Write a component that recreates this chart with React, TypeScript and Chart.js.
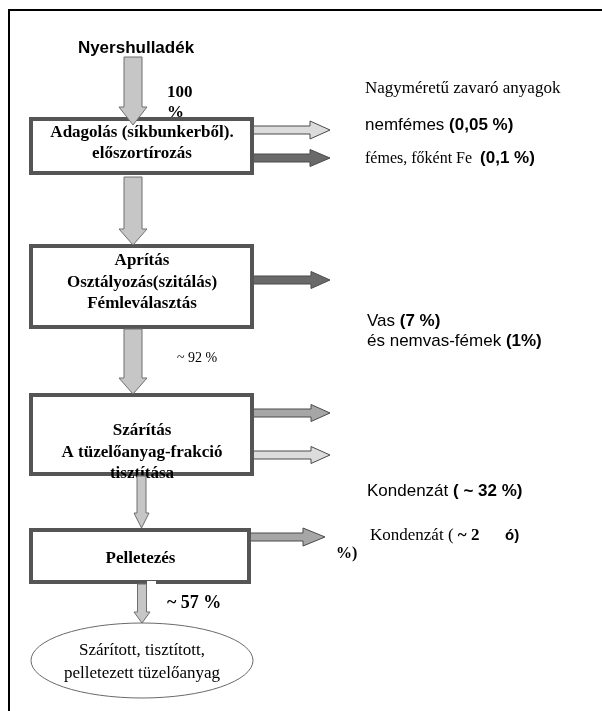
import { useEffect, useRef } from "react";
import { Chart, registerables } from "chart.js";
Chart.register(...registerables);

// ---- content ----
const inputLabel = "Nyershulladék";
const inputShare = ["100", "%"];
const stepLabels: string[][] = [
  ["Adagolás (síkbunkerből).", "előszortírozás"],
  ["Aprítás", "Osztályozás(szitálás)", "Fémleválasztás"],
  ["Szárítás", "A tüzelőanyag-frakció", "tisztítása"],
  ["Pelletezés"],
];
const flowShares = ["~ 92 %", "~ 57 %"];
const productLabel = ["Szárított, tisztított,", "pelletezett tüzelőanyag"];
const removedHeader = "Nagyméretű zavaró anyagok";
const removedNonMetal = ["nemfémes ", "(0,05 %)"];
const removedMetal = ["fémes, főként Fe  ", "(0,1 %)"];
const ironLine = ["Vas ", "(7 %)"];
const nonFerrousLine = ["és nemvas-fémek ", "(1%)"];
const condensate1 = ["Kondenzát ", "( ~ 32 %)"];
const condensate2 = ["Kondenzát ( ", "~ 2", "ó)", "%)"];

// ---- layout (page units, 602 x 711) ----
const BOX = [
  { x0: 29, x1: 254, y0: 117, y1: 175, base: [137, 158] },
  { x0: 29, x1: 254, y0: 244, y1: 329, base: [265, 287, 308] },
  { x0: 29, x1: 254, y0: 393, y1: 476, base: [435, 457, 478] },
  { x0: 29, x1: 251, y0: 528, y1: 584, base: [563] },
];

const SERIF = '"Liberation Serif", "Times New Roman", serif';
const SANS = '"Liberation Sans", Arial, sans-serif';

const flowPlugin = {
  id: "flow",
  afterDraw(chart: any) {
    const ctx: CanvasRenderingContext2D = chart.ctx;
    const xs = chart.scales.x;
    const ys = chart.scales.y;
    const px = (v: number) => xs.getPixelForValue(v);
    const py = (v: number) => ys.getPixelForValue(v);

    ctx.save();
    ctx.fillStyle = "#ffffff";
    ctx.fillRect(0, 0, chart.width, chart.height);

    // frame
    ctx.strokeStyle = "#000";
    ctx.lineWidth = 2;
    ctx.beginPath();
    ctx.moveTo(px(9), py(711));
    ctx.lineTo(px(9), py(10));
    ctx.lineTo(px(602), py(10));
    ctx.stroke();

    const downArrow = (cx: number, y0: number, y1: number, sw: number, hw: number, hh: number) => {
      ctx.beginPath();
      ctx.moveTo(px(cx - sw / 2), py(y0));
      ctx.lineTo(px(cx + sw / 2), py(y0));
      ctx.lineTo(px(cx + sw / 2), py(y1 - hh));
      ctx.lineTo(px(cx + hw / 2), py(y1 - hh));
      ctx.lineTo(px(cx), py(y1));
      ctx.lineTo(px(cx - hw / 2), py(y1 - hh));
      ctx.lineTo(px(cx - sw / 2), py(y1 - hh));
      ctx.closePath();
      ctx.fillStyle = "#c6c6c6";
      ctx.fill();
      ctx.strokeStyle = "#6e6e6e";
      ctx.lineWidth = 1;
      ctx.stroke();
    };
    const rightArrow = (x0: number, x1: number, cy: number, sh: number, hh: number, hl: number, fill: string) => {
      ctx.beginPath();
      ctx.moveTo(px(x0), py(cy - sh / 2));
      ctx.lineTo(px(x1 - hl), py(cy - sh / 2));
      ctx.lineTo(px(x1 - hl), py(cy - hh / 2));
      ctx.lineTo(px(x1), py(cy));
      ctx.lineTo(px(x1 - hl), py(cy + hh / 2));
      ctx.lineTo(px(x1 - hl), py(cy + sh / 2));
      ctx.lineTo(px(x0), py(cy + sh / 2));
      ctx.closePath();
      ctx.fillStyle = fill;
      ctx.fill();
      ctx.strokeStyle = "#4a4a4a";
      ctx.lineWidth = 1;
      ctx.stroke();
    };
    const text = (s: string, x: number, y: number, font: string, align: CanvasTextAlign = "left") => {
      ctx.font = font;
      ctx.textAlign = align;
      ctx.textBaseline = "alphabetic";
      ctx.fillStyle = "#000";
      ctx.fillText(s, px(x), py(y));
      return ctx.measureText(s).width;
    };
    const parts = (x: number, y: number, list: [string, string][]) => {
      let cx = px(x);
      for (const [s, f] of list) {
        ctx.font = f;
        ctx.textAlign = "left";
        ctx.textBaseline = "alphabetic";
        ctx.fillStyle = "#000";
        ctx.fillText(s, cx, py(y));
        cx += ctx.measureText(s).width;
      }
    };

    // side arrows
    rightArrow(253, 330, 130, 8, 18, 20, "#dcdcdc");
    rightArrow(253, 330, 158, 8, 17, 20, "#6a6a6a");
    rightArrow(252, 330, 280, 8, 17, 19, "#6a6a6a");
    rightArrow(252, 330, 413, 8, 17, 19, "#a6a6a6");
    rightArrow(252, 330, 455, 8, 17, 19, "#dcdcdc");
    rightArrow(246, 325, 537, 8, 18, 22, "#a6a6a6");

    // boxes
    BOX.forEach((b, i) => {
      ctx.fillStyle = "#fff";
      ctx.fillRect(px(b.x0), py(b.y0), px(b.x1) - px(b.x0), py(b.y1) - py(b.y0));
      ctx.strokeStyle = "#555";
      ctx.lineWidth = 4;
      ctx.strokeRect(px(b.x0 + 2), py(b.y0 + 2), px(b.x1 - 2) - px(b.x0 + 2), py(b.y1 - 2) - py(b.y0 + 2));
      const cx = (b.x0 + b.x1) / 2 + 0.5;
      stepLabels[i].forEach((l, j) => text(l, cx, b.base[j], `bold 17px ${SERIF}`, "center"));
    });
    ctx.fillStyle = "#fff";
    ctx.fillRect(px(147), py(581), px(156) - px(147), py(586) - py(581));

    // main flow arrows
    downArrow(133, 57, 125, 18, 28, 18);
    downArrow(133, 177, 245, 18, 28, 16);
    downArrow(133, 329, 394, 18, 28, 16);
    downArrow(141.5, 476, 528, 9, 15, 15);
    downArrow(142, 584, 623, 9, 16, 11);

    // product ellipse
    ctx.beginPath();
    ctx.ellipse(px(142), py(660.5), px(253) - px(142), py(698) - py(660.5), 0, 0, Math.PI * 2);
    ctx.fillStyle = "#fff";
    ctx.fill();
    ctx.strokeStyle = "#6a6a6a";
    ctx.lineWidth = 1;
    ctx.stroke();
    text(productLabel[0], 142, 655, `17px ${SERIF}`, "center");
    text(productLabel[1], 142, 678, `17px ${SERIF}`, "center");

    // flow labels
    text(inputLabel, 136, 53, `bold 17px ${SANS}`, "center");
    text(inputShare[0], 167, 97, `bold 17px ${SERIF}`);
    text(inputShare[1], 167, 117, `bold 17px ${SERIF}`);
    text(flowShares[0], 177, 362, `14px ${SERIF}`);
    text(flowShares[1], 167, 608, `bold 18px ${SERIF}`);

    // removed fractions
    text(removedHeader, 365, 93, `17px ${SERIF}`);
    parts(365, 130, [[removedNonMetal[0], `17px ${SANS}`], [removedNonMetal[1], `bold 17px ${SANS}`]]);
    parts(365, 163, [[removedMetal[0], `16px ${SERIF}`], [removedMetal[1], `bold 17px ${SANS}`]]);
    parts(367, 326, [[ironLine[0], `17px ${SANS}`], [ironLine[1], `bold 17px ${SANS}`]]);
    parts(367, 346, [[nonFerrousLine[0], `17px ${SANS}`], [nonFerrousLine[1], `bold 17px ${SANS}`]]);
    parts(367, 496, [[condensate1[0], `17px ${SANS}`], [condensate1[1], `bold 17px ${SANS}`]]);
    parts(370, 540, [[condensate2[0], `17px ${SERIF}`], [condensate2[1], `bold 17px ${SERIF}`]]);
    text(condensate2[2], 505, 540, `bold 15px ${SANS}`);
    text(condensate2[3], 336, 558, `bold 16px ${SERIF}`);

    ctx.restore();
  },
};

export default function App() {
  const ref = useRef<HTMLCanvasElement | null>(null);
  useEffect(() => {
    document.body.style.margin = "0";
    const chart = new Chart(ref.current as HTMLCanvasElement, {
      type: "scatter",
      data: { datasets: [{ data: [], pointRadius: 0 }] },
      options: {
        animation: false,
        responsive: false,
        maintainAspectRatio: false,
        layout: { padding: 0 },
        plugins: { legend: { display: false }, tooltip: { enabled: false } },
        scales: {
          x: { type: "linear", min: 0, max: 602, display: false },
          y: { type: "linear", min: 0, max: 711, reverse: true, display: false },
        },
      },
      plugins: [flowPlugin],
    });
    return () => chart.destroy();
  }, []);
  return (
    <div style={{ position: "absolute", left: 0, top: 0, width: 602, height: 711, background: "#fff" }}>
      <canvas ref={ref} width={602} height={711} style={{ width: 602, height: 711, display: "block" }} />
    </div>
  );
}
